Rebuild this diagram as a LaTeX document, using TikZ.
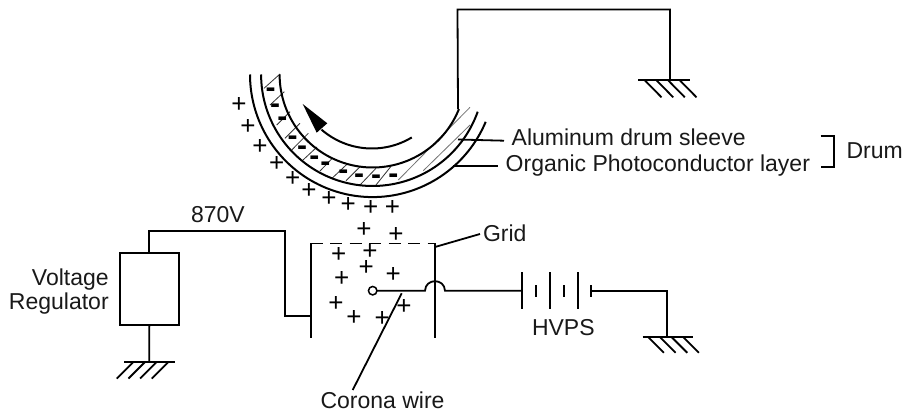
\documentclass[tikz,border=0pt]{standalone}
\usepackage{fontspec}
\setmainfont{Liberation Sans}
\tikzset{
  wire/.style={line width=1.8pt,black,line join=miter},
  drumarc/.style={line width=2pt,black},
  thinline/.style={line width=0.8pt,black!80},
  faintline/.style={line width=0.8pt,black!55},
  label/.style={anchor=base west,inner sep=0pt,outer sep=0pt,font=\fontsize{23}{26}\selectfont,text=black!90},
  labelr/.style={label,anchor=base east,align=right},
  plus/.style={anchor=base,inner sep=0pt,outer sep=0pt,yshift=-9pt,font=\fontsize{26}{28}\selectfont},
  minus/.style={anchor=base,inner sep=0pt,outer sep=0pt,yshift=-7.8pt,font=\fontsize{30}{32}\selectfont\bfseries},
  regbox/.style={draw,line width=1.8pt,minimum width=58.7pt,minimum height=72pt,inner sep=0pt,outer sep=0pt},
  coronadot/.style={draw,circle,line width=1.5pt,minimum size=8.5pt,inner sep=0pt,outer sep=0pt,fill=white},
}
\begin{document}
\begin{tikzpicture}[x=1pt,y=-1pt]
\fill[white] (0,0) rectangle (905,414);
\useasboundingbox (0,0) rectangle (905,414);

% hatching of the photoconductor band
\foreach \xa/\ya/\xb/\yb in {264/88.3/280/74, 270/105/284.3/91.7, 276.7/125/290/111.7, 285/138.3/300/123.3, 291.7/150/308.3/133.3, 303/160/317/147, 320/171/332.3/158.3, 332.3/178/348/163.3, 346/180.7/360/166.7, 360/185/376/168.3, 376/185/390.7/166.7}
  \draw[thinline] (\xa,\ya) -- (\xb,\yb);
\draw[faintline] (398.3,180) -- (470,107.3);
\draw[faintline] (423.3,170.7) -- (470,125);

% drum arcs
\draw[drumarc] plot[domain=180:22.7,samples=80,smooth] ({372.6+122.6*cos(\x)},{74.5+122.6*sin(\x)});
\draw[drumarc] plot[domain=180:19.5,samples=80,smooth] ({372.6+111.5*cos(\x)},{74.5+111.5*sin(\x)});
\draw[drumarc] plot[domain=180:21.8,samples=80,smooth] ({372.6+93*cos(\x)},{74.5+93*sin(\x)});

% rotation arrow
\draw[drumarc] plot[domain=58.9:131,samples=40,smooth] ({372+77*cos(\x)},{71.5+77*sin(\x)});
\fill[black] (302.7,104) -- (327.3,123.3) -- (316.7,132.7) -- cycle;

% charges
\foreach \px/\py [count=\i] in {239/103.3,248/125.7,260/146,276.7/162.3,292.7/177.3,309/189.3,329/197.7,348.3/204,370.7/206.7,392.5/206.7,364/228.3,396/233.3,338.7/253.3,370/250,366.3/266,393.3/273.3,341.7/277.7,336/302.3,354/316,382.3/317.3,404/305.7}
  \node[plus] (plus\i) at (\px,\py) {+};
\foreach \px/\py [count=\i] in {270.7/90,275/106,282.3/118.3,292.7/137.3,302/147.7,314.3/157.3,325.3/164,343.3/171.7,359/175.7,376/177,393.3/175.7}
  \node[minus] (minus\i) at (\px,\py) {-};

% named points
\coordinate (sleeve) at (458,109);
\coordinate (topL) at (457.5,9.5);
\coordinate (topR) at (670,9.5);
\coordinate (gndA) at (670,80);
\coordinate (gndAl) at (638.3,80);
\coordinate (gndAr) at (690.3,80);
\coordinate (gndB) at (666.7,336.7);
\coordinate (gndBl) at (642.7,336.7);
\coordinate (gndBr) at (692.7,336.7);
\coordinate (gndC) at (149.3,361.7);
\coordinate (gndCl) at (124,361.7);
\coordinate (gndCr) at (174.7,361.7);
\coordinate (wA) at (285,231);
\coordinate (wB) at (285,315.7);
\coordinate (plateLt) at (310.7,243.5);
\coordinate (plateLm) at (310.7,315.7);
\coordinate (plateLb) at (310.7,337.7);
\coordinate (plateRt) at (435,243.5);
\coordinate (plateRb) at (435,337.7);
\coordinate (gridTip) at (480,234);
\coordinate (gridFoot) at (435,247);
\coordinate (humpL) at (425,290.7);
\coordinate (humpR) at (445,290.7);
\coordinate (batL) at (522.3,290.7);
\coordinate (batR) at (591.3,290.7);
\coordinate (batCorner) at (666.7,290.7);
\coordinate (coronaA) at (401.7,293.3);
\coordinate (coronaB) at (352.7,390);
\coordinate (alA) at (458,139.5);
\coordinate (alB) at (504,140.7);
\coordinate (orgA) at (453,166);
\coordinate (orgB) at (498,166);
\coordinate (brA) at (820.7,136);
\coordinate (brB) at (834,136);
\coordinate (brC) at (834,166.7);
\coordinate (brD) at (820.7,166.7);

% top wire and ground
\draw[wire] (sleeve) -- (topL) -- (topR) -- (gndA);
\draw[wire] (gndAl) -- (gndAr);
\foreach \g in {645,656.7,668.3,680}
  \draw[wire] (\g,80.5) -- ++(16.5,16.8);

% labels
\node[label] (lblAl) at (511.7,146) {Aluminum drum sleeve};
\node[label] (lblOrg) at (505.7,171.7) {Organic Photoconductor layer};
\node[label] (lblDrum) at (846.5,158.3) {Drum};
\node[label] (lbl870) at (191,223) {870V};
\node[label] (lblGrid) at (483,241) {Grid};
\node[label] (lblHvps) at (532,335.7) {HVPS};
\node[label] (lblCor) at (320.5,408.3) {Corona wire};
\node[labelr] (lblVolt) at (108.7,285) {Voltage};
\node[labelr] (lblReg) at (108.7,309) {Regulator};

% leaders
\draw[wire] (alA) -- (alB);
\draw[wire] (orgA) -- (orgB);
\draw[wire] (brA) -- (brB) -- (brC) -- (brD);
\draw[wire] (gridFoot) -- (gridTip);

% voltage regulator
\node[regbox] (reg) at (149.35,289.15) {};
\draw[wire] (reg.north) |- (wA) -- (wB) -- (plateLm);
\draw[wire] (reg.south) -- (gndC);
\draw[wire] (gndCl) -- (gndCr);
\foreach \g in {133.3,145,156.7,168.3}
  \draw[wire] (\g,362) -- ++(-16.6,16.6);

% grid
\draw[wire] (plateLb) -- (plateLt);
\draw[wire] (plateRb) -- (plateRt);
\draw[wire,dash pattern=on 12pt off 7.5pt] (plateLt) -- (plateRt);

% corona wire
\node[coronadot] (corona) at (372.7,290.7) {};
\draw[wire] (corona.east) -- (humpL) .. controls (425.5,278) and (444.5,278) .. (humpR) -- (batL);
\draw[wire] (coronaA) -- (coronaB);

% battery
\foreach \bx in {522.3,550,578}
  \draw[wire] (\bx,272) -- (\bx,308.5);
\foreach \bx in {536.3,564,591.3}
  \draw[wire] (\bx,285) -- (\bx,297);
\draw[wire] (batR) -- (batCorner) -- (gndB);
\draw[wire] (gndBl) -- (gndBr);
\foreach \g in {648.3,660,671.7,683.3}
  \draw[wire] (\g,337.2) -- ++(15.6,15.6);
\end{tikzpicture}
\end{document}
